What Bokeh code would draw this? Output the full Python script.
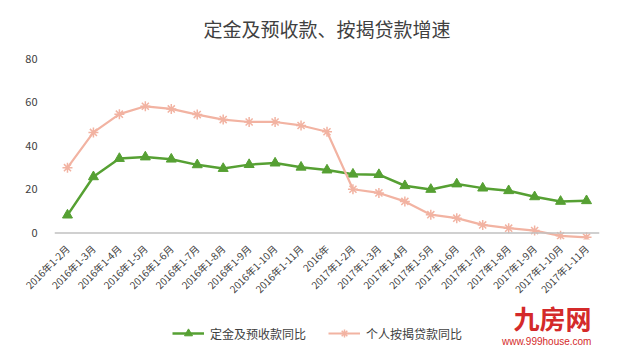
import math
from bokeh.plotting import figure
from bokeh.layouts import column
from bokeh.models import (ColumnDataSource, FixedTicker, Span, Legend, LegendItem,
                          Label, Range1d)
from bokeh.embed import file_html
from bokeh.resources import INLINE

categories = ["2016年1-2月", "2016年1-3月", "2016年1-4月", "2016年1-5月", "2016年1-6月",
              "2016年1-7月", "2016年1-8月", "2016年1-9月", "2016年1-10月", "2016年1-11月",
              "2016年", "2017年1-2月", "2017年1-3月", "2017年1-4月", "2017年1-5月",
              "2017年1-6月", "2017年1-7月", "2017年1-8月", "2017年1-9月", "2017年1-10月",
              "2017年1-11月"]
deposit = [8.2, 25.8, 34.2, 34.9, 33.9, 31.3, 29.6, 31.4, 32.1, 30.2, 28.9,
           27.0, 26.8, 21.7, 20.0, 22.5, 20.6, 19.4, 16.6, 14.5, 14.8]
mortgage = [30.0, 46.2, 54.6, 58.2, 57.0, 54.4, 52.1, 51.0, 51.0, 49.4, 46.5,
            20.1, 18.4, 14.5, 8.4, 6.8, 3.7, 2.2, 1.1, -1.3, -2.0]
y_ticks = [0, 20, 40, 60, 80]
series_names = ["定金及预收款同比", "个人按揭贷款同比"]

FONT = "Noto Sans CJK SC"
GREEN = "#56a033"
PINK = "#f2b3a2"
TXT = "#404040"

src = ColumnDataSource(dict(cat=categories, dep=deposit, mor=mortgage))

p = figure(x_range=categories, y_range=Range1d(-3, 82), width=609, height=304,
           output_backend="svg", toolbar_location=None,
           title="定金及预收款、按揭贷款增速",
           min_border_left=54, min_border_right=10, min_border_top=52,
           min_border_bottom=54)
p.title.align = "center"
p.title.text_font = FONT
p.title.text_font_size = "19px"
p.title.text_font_style = "normal"
p.title.text_color = TXT
p.title.standoff = 25

p.outline_line_color = None
p.grid.visible = False

p.yaxis.ticker = FixedTicker(ticks=y_ticks)
p.yaxis.axis_line_color = None
p.yaxis.major_tick_line_color = None
p.yaxis.minor_tick_line_color = None
p.yaxis.major_label_text_font = FONT
p.yaxis.major_label_text_font_size = "11px"
p.yaxis.major_label_text_color = TXT
p.yaxis.major_label_standoff = 11

p.xaxis.axis_line_color = None
p.xaxis.major_tick_line_color = None
p.xaxis.major_label_orientation = math.pi / 4
p.xaxis.major_label_text_font = FONT
p.xaxis.major_label_text_font_size = "10px"
p.xaxis.major_label_text_color = TXT
p.xaxis.major_label_standoff = 1

p.add_layout(Span(location=0, dimension="width", line_color="#c0c0c0", line_width=1.5))

p.line("cat", "dep", source=src, line_color=GREEN, line_width=2.5)
p.scatter("cat", "dep", source=src, marker="triangle", size=10,
          fill_color=GREEN, line_color=GREEN)
p.line("cat", "mor", source=src, line_color=PINK, line_width=2.2)
p.scatter("cat", "mor", source=src, marker="asterisk", size=10,
          line_color=PINK, line_width=1.5)

# bottom strip: legend and watermark
q = figure(width=609, height=43, x_range=Range1d(0, 609), y_range=Range1d(0, 43),
           output_backend="svg", toolbar_location=None,
           min_border=0, min_border_left=0, min_border_right=0,
           min_border_top=0, min_border_bottom=0)
q.axis.visible = False
q.grid.visible = False
q.outline_line_color = None

proxy = ColumnDataSource(dict(x=[float("nan")], y=[float("nan")]))
l1 = q.line("x", "y", source=proxy, line_color=GREEN, line_width=2.5)
s1 = q.scatter("x", "y", source=proxy, marker="triangle", size=8,
               fill_color=GREEN, line_color=GREEN)
l2 = q.line("x", "y", source=proxy, line_color=PINK, line_width=2.2)
s2 = q.scatter("x", "y", source=proxy, marker="asterisk", size=8,
               line_color=PINK, line_width=1.5)

legend = Legend(items=[LegendItem(label=series_names[0], renderers=[l1, s1]),
                       LegendItem(label=series_names[1], renderers=[l2, s2])],
                orientation="horizontal", location=(118, 4),
                label_text_font=FONT, label_text_font_size="12px",
                label_text_color=TXT, border_line_color=None,
                background_fill_alpha=0, label_standoff=6,
                glyph_width=32, spacing=22, margin=0, padding=2)
q.add_layout(legend, "center")

q.add_layout(Label(x=600, y=12, text="九房网", text_font=FONT, text_align="right",
                   text_font_size="26px", text_color="#d42a2a",
                   text_font_style="bold"))
q.add_layout(Label(x=600, y=1, text="www.999house.com", text_font="Liberation Sans",
                   text_align="right", text_font_size="10px", text_color="#d42a2a"))

open("out.html", "w").write(file_html(column(p, q, spacing=0), INLINE))
